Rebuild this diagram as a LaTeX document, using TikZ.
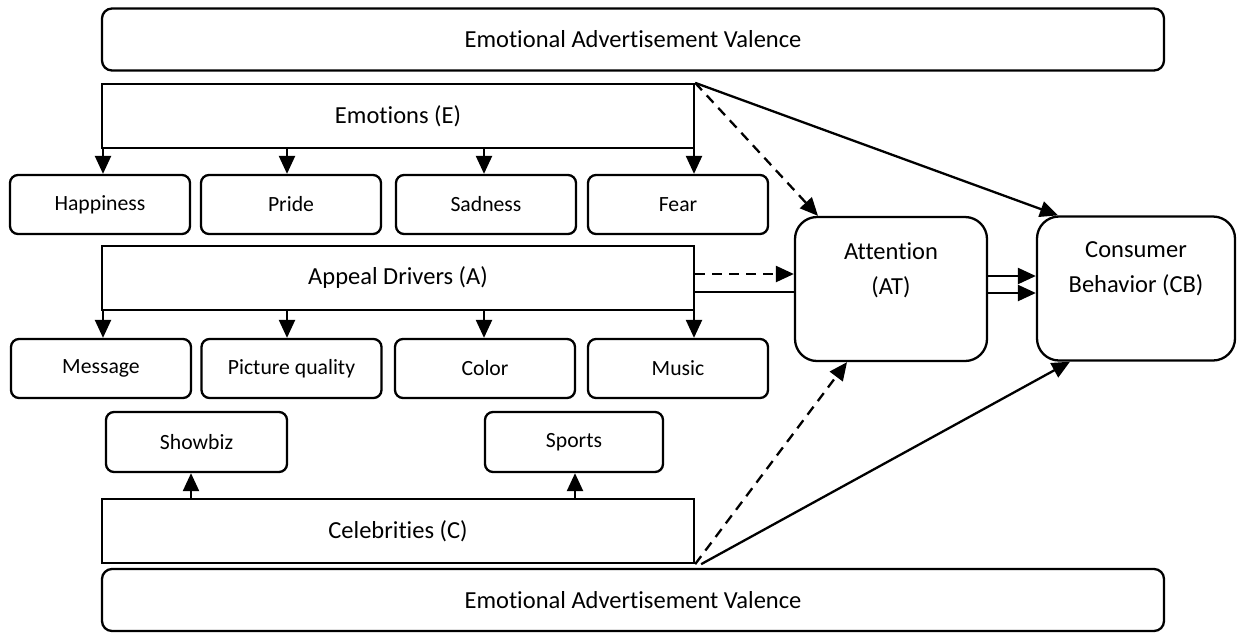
\documentclass[tikz,border=0pt]{standalone}
\usepackage{fontspec}
\setmainfont{Carlito}[Ligatures={NoCommon,NoContextual}]
\usetikzlibrary{arrows.meta}
\newcommand{\BoxFont}{\fontsize{24.5}{35}\selectfont}
\newcommand{\ItemFont}{\fontsize{21.7}{26}\selectfont}

\begin{document}
\begin{tikzpicture}[x=1pt, y=-1pt, line width=2.3pt,
    >={Triangle[length=18pt,width=16pt]},
    valbox/.style={draw, rounded corners=10pt, minimum width=1062pt, minimum height=62pt, font=\BoxFont},
    groupbox/.style={draw, minimum width=592pt, minimum height=64pt, font=\BoxFont},
    itembox/.style={draw, rounded corners=8pt, minimum width=180pt, minimum height=59pt, font=\ItemFont},
    bigbox/.style={draw, rounded corners=22pt, minimum width=192pt, minimum height=144pt},
    dashline/.style={dash pattern=on 10pt off 7pt}]
  \useasboundingbox (0,0) rectangle (1238,633);
  % outer valence bars
  \node[valbox] (VT) at (633, 39.5) {Emotional Advertisement Valence};
  \node[valbox] (VB) at (633, 600) {Emotional Advertisement Valence};
  % emotions
  \node[groupbox] (E) at (398, 116) {Emotions (E)};
  \node[itembox] (EA) at (100, 204.5) {Happiness};
  \node[itembox] (EB) at (291, 204.5) {Pride};
  \node[itembox] (EC) at (486, 204.5) {Sadness};
  \node[itembox] (ED) at (678, 204.5) {Fear};
  % appeal drivers
  \node[groupbox] (A) at (398, 278) {Appeal Drivers (A)};
  \node[itembox] (AA) at (101, 368.5) {Message};
  \node[itembox] (AB) at (291.5, 368.5) {Picture quality};
  \node[itembox] (AC) at (485, 368.5) {Color};
  \node[itembox] (AD) at (678, 368.5) {Music};
  % celebrities
  \node[groupbox] (C) at (398, 531) {Celebrities (C)};
  \node[itembox, minimum width=181pt, minimum height=60pt] (CA) at (196.5, 442) {Showbiz};
  \node[itembox, minimum width=178pt, minimum height=60pt] (CB) at (574, 442) {Sports};
  % outcomes
  \node[bigbox] (AT) at (891, 289) {};
  \node[font=\BoxFont, align=center] (ATtext) at (891, 270) {Attention\\(AT)};
  \node[bigbox, minimum width=198pt] (CBH) at (1136, 288.5) {};
  \node[font=\BoxFont, align=center] (CBHtext) at (1136, 269) {Consumer\\Behavior (CB)};

  \foreach \x/\t in {103/EA, 287/EB, 484/EC, 694/ED}
    \draw[->] (\x,0 |- E.south) -- (\x,0 |- \t.north);
  \foreach \x/\t in {103/AA, 287/AB, 484/AC, 694/AD}
    \draw[->] (\x,0 |- A.south) -- (\x,0 |- \t.north);
  \draw[->] (191,0 |- C.north) -- (191,0 |- CA.south);
  \draw[->] (575,0 |- C.north) -- (575,0 |- CB.south);

  \draw[->, dashline] (E.north east) -- ([xshift=-73pt]AT.north);
  \draw[->] (E.north east) -- ([xshift=-78pt]CBH.north);
  \draw[->, dashline] ([yshift=4pt]A.east) -- ([yshift=4pt]A.east -| AT.west);
  \draw ([yshift=-14pt]A.east) -- ([yshift=-14pt]A.east -| AT.west);
  \draw[->] ([yshift=13pt]AT.east) -- ([yshift=13pt]AT.east -| CBH.west);
  \draw[->] ([yshift=-4pt]AT.east) -- ([yshift=-4pt]AT.east -| CBH.west);
  \draw[->, dashline] (C.south east) -- ([xshift=-44pt]AT.south);
  \draw[->] ([xshift=6pt]C.south east) -- ([xshift=-66pt]CBH.south);
\end{tikzpicture}
\end{document}
